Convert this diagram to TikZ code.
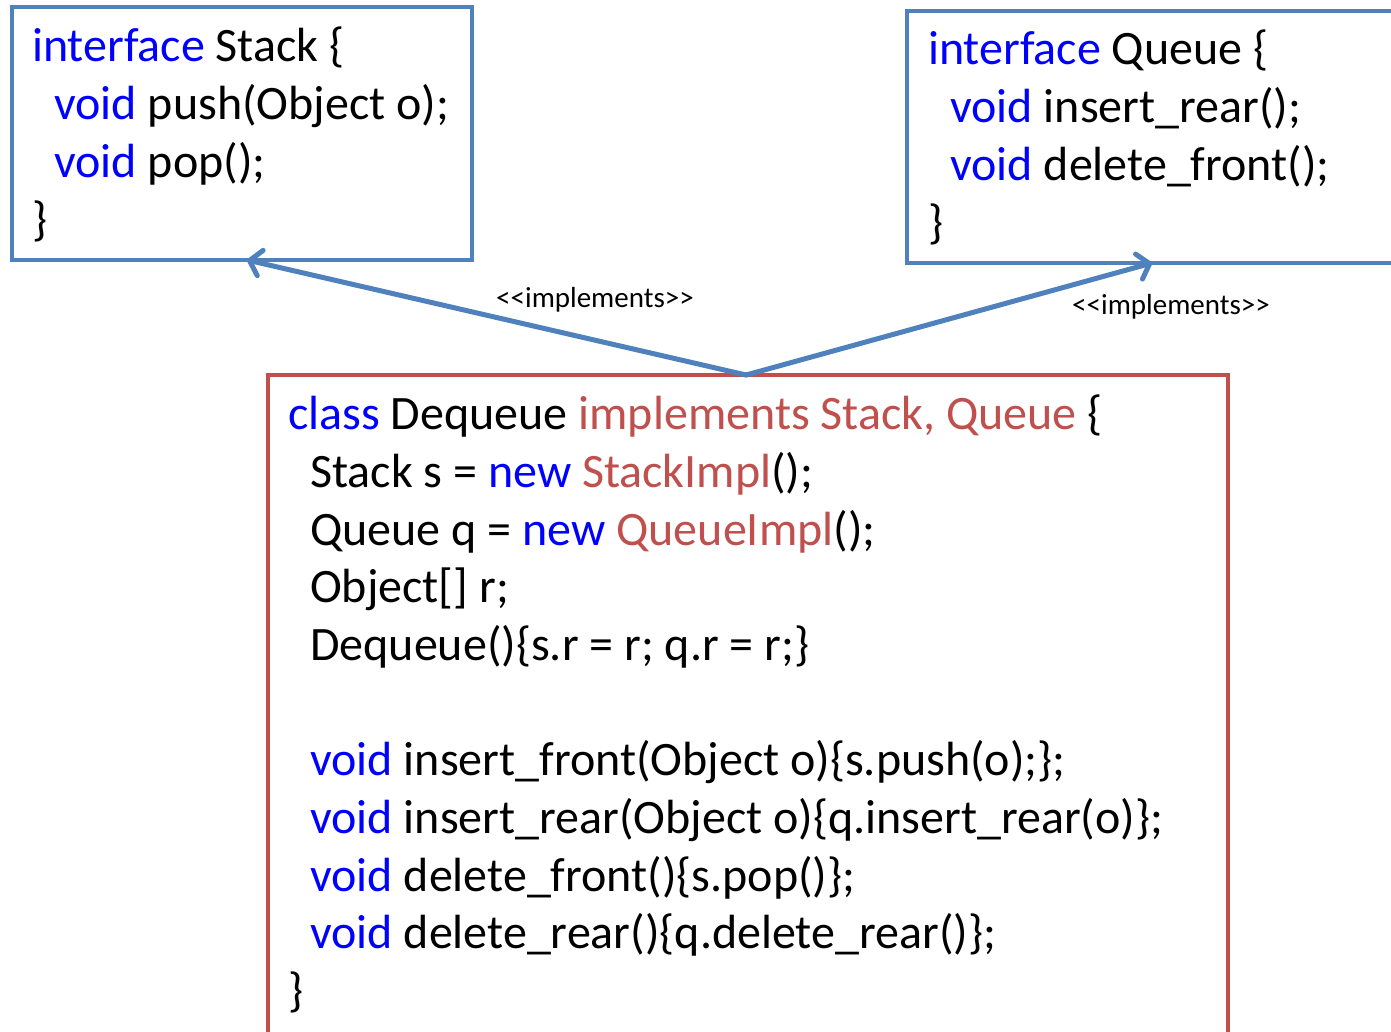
\documentclass[tikz,border=0pt]{standalone}
\usepackage{fontspec}
\setmainfont{Carlito}
\usetikzlibrary{arrows.meta,calc}
\definecolor{boxblue}{HTML}{4F81BD}
\definecolor{boxred}{HTML}{C0504D}
\definecolor{kwblue}{HTML}{0000FF}
\newcommand\kw[1]{\textcolor{kwblue}{#1}}
\newcommand\im[1]{\textcolor{boxred}{#1}}
\newcommand\codefont{\fontsize{48}{58}\selectfont}
\begin{document}
\begin{tikzpicture}[x=1pt,y=-1pt,
  codeline/.style={anchor=base west, inner sep=0pt, font=\codefont},
  ifacebox/.style={draw=boxblue, line width=4.5pt, rectangle, inner sep=0pt, outer sep=0pt, anchor=north west},
  classbox/.style={draw=boxred, line width=4.5pt, rectangle, inner sep=0pt, outer sep=0pt, anchor=north west},
  implarrow/.style={draw=boxblue, line width=5pt, line cap=round, line join=round,
    -{Straight Barb[length=11pt,width=26pt,line cap=round,line join=round]}},
  lbl/.style={inner sep=0pt, font=\fontsize{29}{33}\selectfont}]
\clip (0,0) rectangle (1391,1031);
\fill[white] (0,0) rectangle (1391,1031);
% boxes
\node[ifacebox, minimum width=460pt, minimum height=253pt] (stack) at (12,7) {};
\node[ifacebox, minimum width=500pt, minimum height=252pt] (queue) at (907,11) {};
\node[classbox, minimum width=960pt, minimum height=700pt] (dq) at (268,375) {};
% Stack interface
\node[codeline] (s1) at (32,61) {\kw{interface} Stack \{};
\node[codeline] (s2) at (54,119) {\kw{void} push(Object o);};
\node[codeline] (s3) at (54,177) {\kw{void} pop();};
\node[codeline] (s4) at (32,235) {\}};
% Queue interface
\node[codeline] (q1) at (928,64) {\kw{interface} Queue \{};
\node[codeline] (q2) at (950,122) {\kw{void} insert\_rear();};
\node[codeline] (q3) at (950,180) {\kw{void} delete\_front();};
\node[codeline] (q4) at (928,238) {\}};
% Dequeue class
\node[codeline] (d1) at (288,429) {\kw{class} Dequeue \im{implements Stack, Queue} \{};
\node[codeline] (d2) at (310,487) {Stack s = \kw{new} \im{StackImpl}();};
\node[codeline] (d3) at (310,545) {Queue q = \kw{new} \im{QueueImpl}();};
\node[codeline] (d4) at (310,602) {Object[] r;};
\node[codeline] (d5) at (310,660) {Dequeue()\{s.r = r; q.r = r;\}};
\node[codeline] (d6) at (310,775) {\kw{void} insert\_front(Object o)\{s.push(o);\};};
\node[codeline] (d7) at (310,833) {\kw{void} insert\_rear(Object o)\{q.insert\_rear(o)\};};
\node[codeline] (d8) at (310,891) {\kw{void} delete\_front()\{s.pop()\};};
\node[codeline] (d9) at (310,948) {\kw{void} delete\_rear()\{q.delete\_rear()\};};
\node[codeline] (d10) at (288,1006) {\}};
% connectors
\coordinate (src) at ($(dq.north west)!0.498!(dq.north east)$);
\coordinate (stip) at ($(stack.south west)!0.511!(stack.south east)$);
\coordinate (qtip) at ($(queue.south west)!0.49!(queue.south east)$);
\draw[implarrow] (src) -- (stip);
\draw[implarrow] (src) -- (qtip);
\node[lbl] (l1) at (595,300) {<{}<implements>{}>};
\node[lbl] (l2) at (1171,307) {<{}<implements>{}>};
\end{tikzpicture}
\end{document}
